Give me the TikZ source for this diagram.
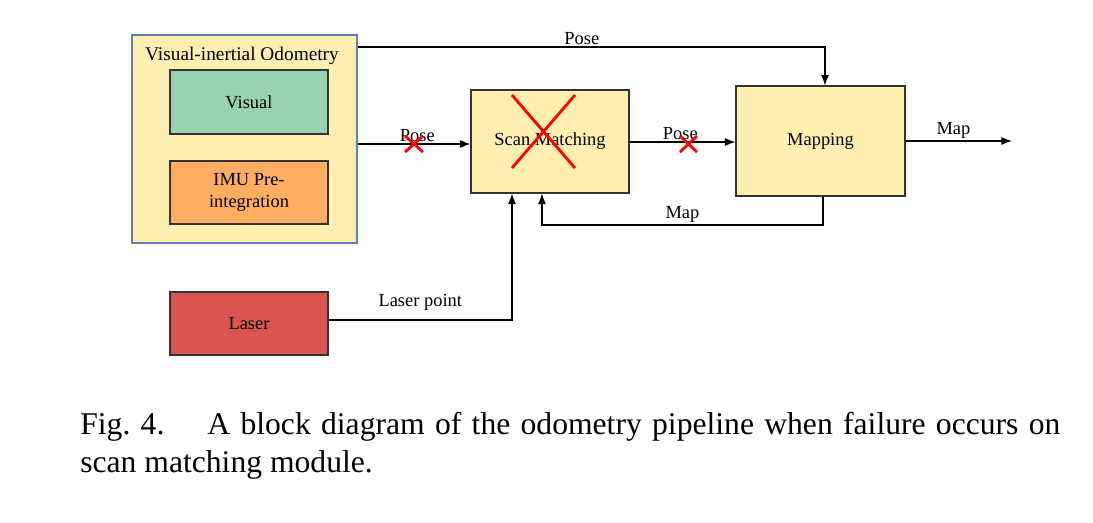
\documentclass[tikz,border=0pt]{standalone}
\usepackage{fontspec}
\usetikzlibrary{arrows.meta}
\setmainfont{Liberation Serif}
\begin{document}
\begin{tikzpicture}[x=0.02cm,y=-0.02cm,
 box/.style={draw=black!80,line width=0.6pt,inner sep=0pt,align=center,font=\fontsize{10.5}{13}\selectfont},
 lbl/.style={font=\fontsize{10.5}{13}\selectfont,inner sep=1pt},
 arr/.style={-{Latex[length=6pt,width=4.5pt]},line width=0.6pt},
 xx/.style={red,line width=1.6pt}]
\useasboundingbox (0,0) rectangle (1093,522);
\fill[white] (0,0) rectangle (1093,522);
\definecolor{vy}{HTML}{FFEFB0}
\definecolor{vb}{HTML}{5E7FB8}
\node[box,draw=vb,fill=vy,minimum width=225*0.02cm,minimum height=208*0.02cm] (vio) at (244.5,139) {};
\node[lbl,font=\fontsize{11}{13}\selectfont] (viot) at (242,56) {Visual-inertial Odometry};
\node[box,fill={rgb,255:red,152;green,210;blue,178},minimum width=158*0.02cm,minimum height=64*0.02cm] (vis) at (249,102) {Visual};
\node[box,fill={rgb,255:red,255;green,173;blue,96},minimum width=158*0.02cm,minimum height=63*0.02cm] (imu) at (249,192.5) {IMU Pre-\\integration};
\node[box,fill={rgb,255:red,219;green,85;blue,80},minimum width=158*0.02cm,minimum height=63*0.02cm] (las) at (249,323.5) {Laser};
\node[box,fill=vy,minimum width=158*0.02cm,minimum height=103*0.02cm] (sm) at (550,141.5) {Scan Matching};
\node[box,fill=vy,minimum width=169*0.02cm,minimum height=110*0.02cm] (map) at (820.5,141) {Mapping};
\coordinate (out) at (1012,141);
% arrows
\draw[arr] (vio.east |- 0,144) -- (sm.west |- 0,144) node[lbl,pos=0.53,above] {Pose};
\draw[arr] (vio.east |- 0,47) -- (825,47) node[lbl,pos=0.48,above] {Pose} -- (map.north -| 825,0);
\draw[arr] (sm.east |- 0,142) -- (map.west |- 0,142) node[lbl,pos=0.48,above] {Pose};
\draw[arr] (map.east |- 0,141) -- (out) node[lbl,pos=0.45,above] {Map};
\draw[arr] (map.south -| 823,0) -- (823,225) -- node[lbl,above] {Map} (542,225) -- (sm.south -| 542,0);
\draw[arr] (las.east |- 0,320) -- node[lbl,above,pos=0.5,yshift=4pt] {Laser point} (512,320) -- (sm.south -| 512,0);
% crosses
\draw[xx] (405,136) -- (423,152) (405,152) -- (423,136);
\draw[xx] (680,136) -- (697,152) (680,152) -- (697,136);
\draw[xx] (512,95) -- (575,168) (512,168) -- (575,95);
% caption
\node[anchor=north west,inner sep=0pt,text width=980*0.02cm,align=justify,font=\fontsize{18}{21.5}\selectfont] (cap) at (80,412) {Fig.~4.\hspace{0.8em} A block diagram of the odometry pipeline when failure occurs on scan matching module.};
\end{tikzpicture}
\end{document}
